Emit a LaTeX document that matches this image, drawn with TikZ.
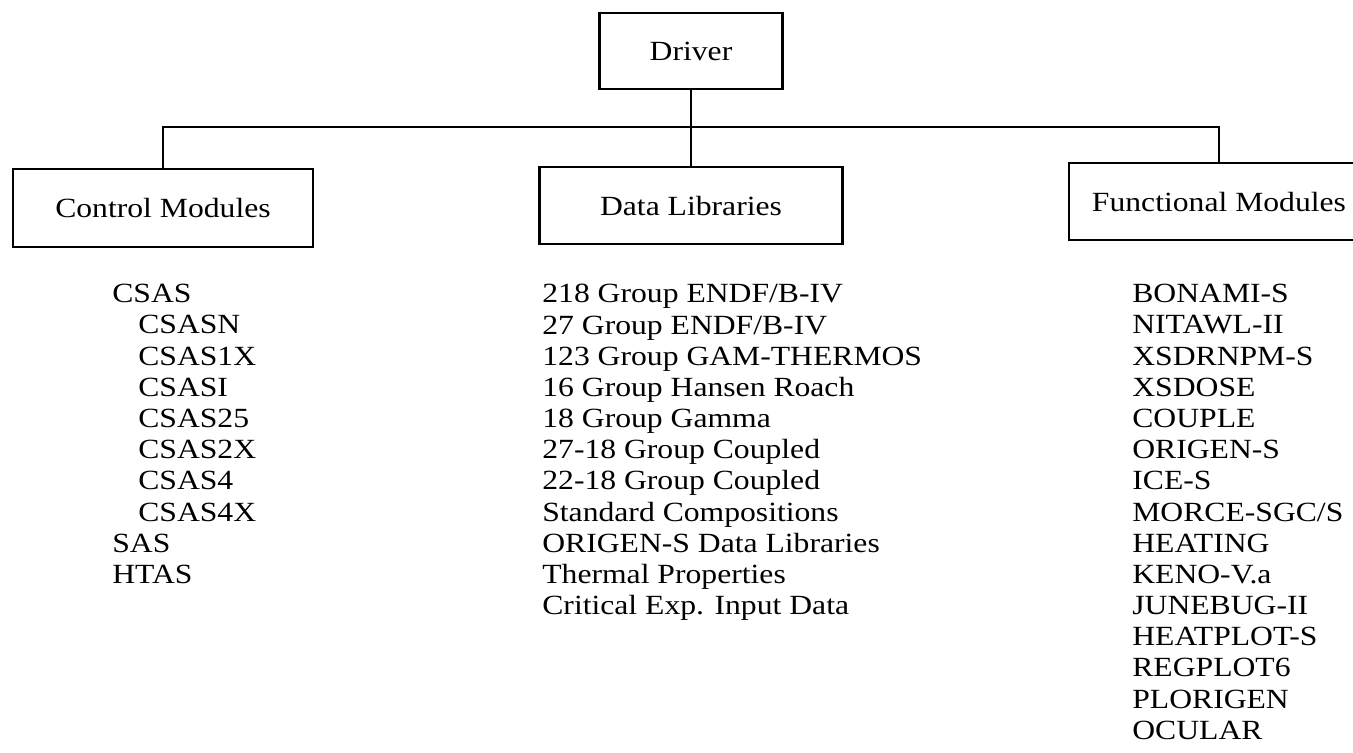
\documentclass[tikz,border=0pt]{standalone}
\usepackage{fontspec}
\setmainfont[FakeStretch=1.14]{Liberation Serif}
\usepackage{tikz}
\usetikzlibrary{positioning}

\begin{document}
\begin{tikzpicture}[
  x=0.02cm, y=-0.02cm,
  font=\fontsize{15.8}{17.75}\selectfont,
  box/.style={draw, line width=1.4pt, align=center, inner sep=0pt, minimum width=6cm, minimum height=1.55cm},
  list/.style={align=left, inner sep=0pt, anchor=north west},
  link/.style={line width=1.1pt}
]
\clip (0,0) rectangle (1353,752);
\fill[white] (0,0) rectangle (1353,752);

\node[box, minimum width=3.66cm, minimum height=1.52cm] (drv) at (691,51) {Driver};
\node[box] (ctl) at (163,208) {Control Modules};
\node[box, minimum width=6.06cm] (dat) at (691,205.5) {Data Libraries};
\node[box] (fun) at (1219,201.5) {Functional Modules};

\coordinate (bus) at (691,127);

\node[list] (ctlitems) at (112,284) {CSAS\\
  \hspace*{0.52cm}CSASN\\
  \hspace*{0.52cm}CSAS1X\\
  \hspace*{0.52cm}CSASI\\
  \hspace*{0.52cm}CSAS25\\
  \hspace*{0.52cm}CSAS2X\\
  \hspace*{0.52cm}CSAS4\\
  \hspace*{0.52cm}CSAS4X\\
  SAS\\
  HTAS};
\node[list] (datitems) at (542,284) {218 Group ENDF/B-IV\\
  27 Group ENDF/B-IV\\
  123 Group GAM-THERMOS\\
  16 Group Hansen Roach\\
  18 Group Gamma\\
  27-18 Group Coupled\\
  22-18 Group Coupled\\
  Standard Compositions\\
  ORIGEN-S Data Libraries\\
  Thermal Properties\\
  Critical Exp. Input Data};
\node[list] (funitems) at (1132,284) {BONAMI-S\\
  NITAWL-II\\
  XSDRNPM-S\\
  XSDOSE\\
  COUPLE\\
  ORIGEN-S\\
  ICE-S\\
  MORCE-SGC/S\\
  HEATING\\
  KENO-V.a\\
  JUNEBUG-II\\
  HEATPLOT-S\\
  REGPLOT6\\
  PLORIGEN\\
  OCULAR};

\draw[link] (drv.south) -- (dat.north);
\draw[link] (ctl.north) |- (bus) -| (fun.north);
\end{tikzpicture}
\end{document}
